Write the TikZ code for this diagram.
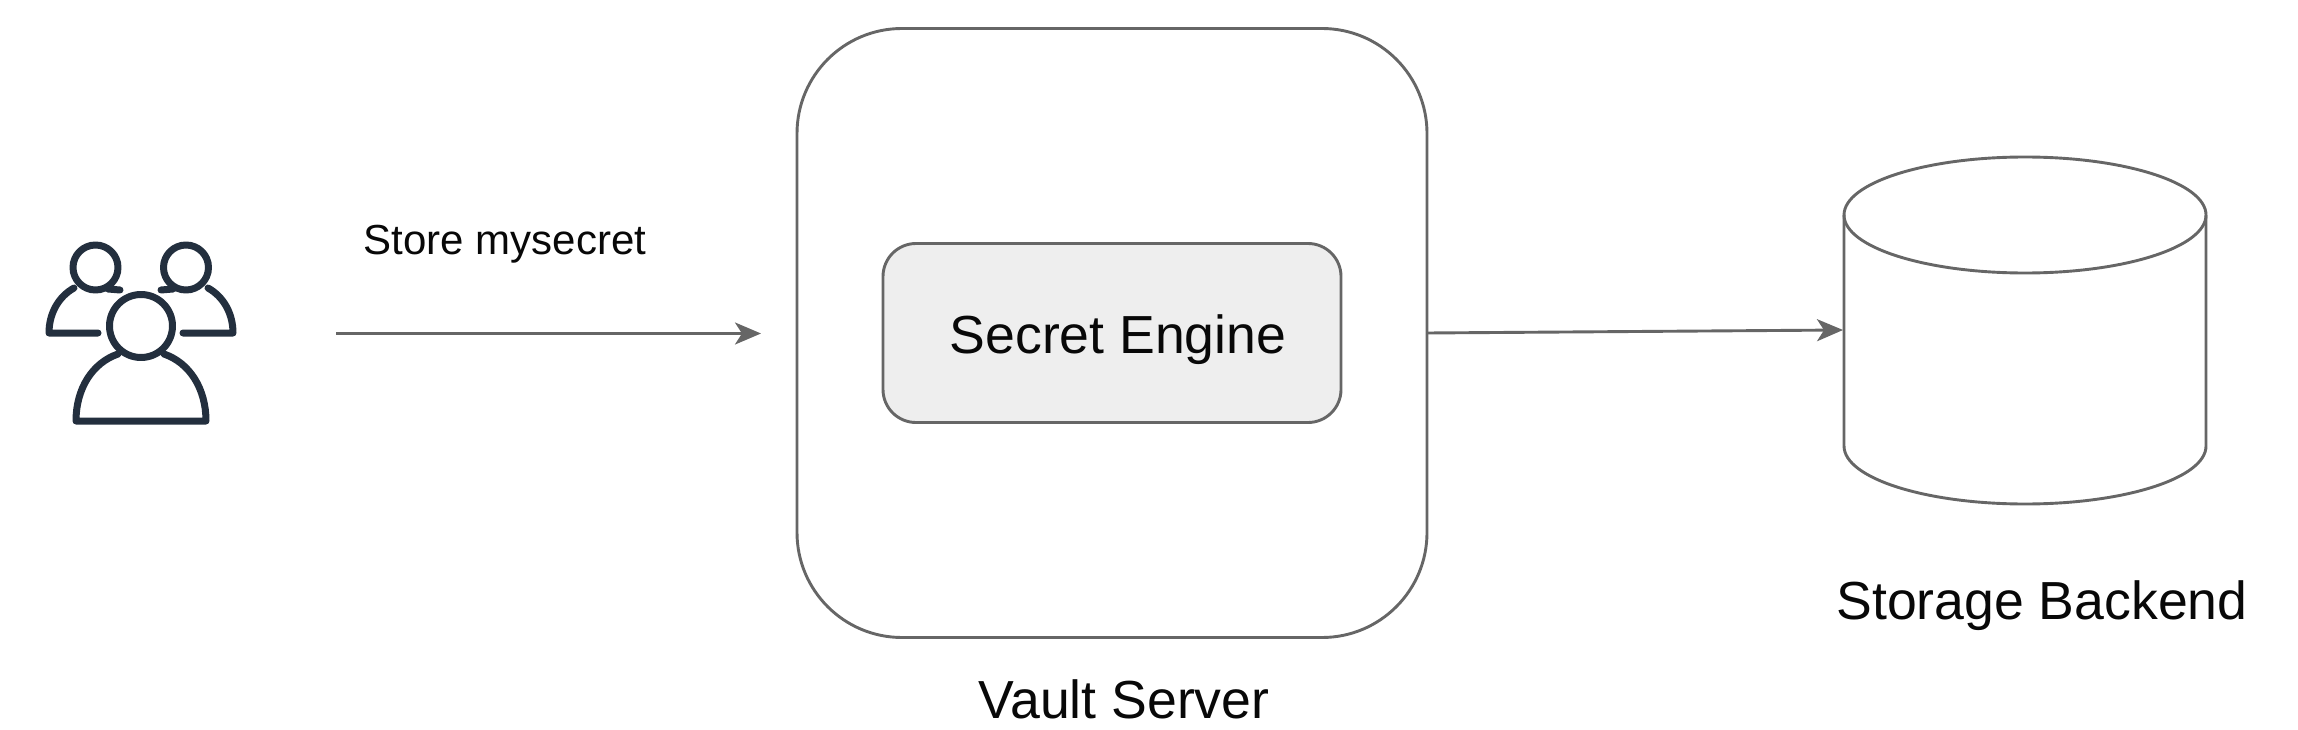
\documentclass[tikz,border=0pt]{standalone}
\usepackage{fontspec}
\setmainfont{Liberation Sans}
\usetikzlibrary{arrows.meta}
\definecolor{linegray}{HTML}{666666}
\definecolor{iconink}{HTML}{232F3E}
\definecolor{enginefill}{HTML}{EEEEEE}
\definecolor{textink}{HTML}{080808}
\tikzset{
  box/.style={draw=linegray,line width=2.9pt,inner sep=0pt,outer sep=0pt},
  conn/.style={draw=linegray,line width=2.9pt,-{Stealth[length=26pt,width=22pt,inset=7pt]}},
  biglabel/.style={text=textink,font=\fontsize{53.6}{60}\selectfont,inner sep=0pt},
  smalllabel/.style={text=textink,font=\fontsize{42}{48}\selectfont,inner sep=0pt},
  person/.style={draw=iconink,line width=7pt,line cap=round,line join=round},
  cyl/.style={draw=linegray,line width=2.9pt}
}
\begin{document}
\begin{tikzpicture}[x=1pt,y=-1pt]
\useasboundingbox[fill=white] (0,0) rectangle (2298,730);
% users icon
\draw[person] (95.5,267.5) circle (22.5);
\draw[person] (186,267.5) circle (22.5);
\draw[person] (141,326) circle (31.5);
\draw[person] (98,333) -- (49,333) .. controls (49,314) and (58,297) .. (74,288);
\draw[person] (108,289) -- (120,290);
\draw[person] (183,333) -- (233,333) .. controls (233,314) and (224,297) .. (208,288);
\draw[person] (173,289) -- (161,290);
\draw[person] (118,354) .. controls (92,363) and (76,389) .. (76,421) -- (206,421) .. controls (206,389) and (190,363) .. (164,354);
% vault server
\node[box,rounded corners=105pt,minimum width=630pt,minimum height=609pt] (vault) at (1112,333) {};
\node[box,fill=enginefill,rounded corners=33pt,minimum width=458pt,minimum height=179pt] (engine) at (1112,333) {};
\node[biglabel] (enginelabel) at (1118,340) {Secret Engine};
\node[biglabel] (vaultlabel) at (1124,699) {Vault Server};
% cylinder
\coordinate (cylw) at (1843,330);
\draw[cyl] (1844,215) -- (1844,446) arc[start angle=180,end angle=0,x radius=181,y radius=58] -- (2206,215);
\draw[cyl] (2025,215) ellipse[x radius=181,y radius=58];
\node[biglabel] (storelabel) at (2042,606) {Storage Backend};
% connectors
\coordinate (start) at (336,333.5);
\coordinate (arrowend) at (761,333.5);
\draw[conn] (start) -- (arrowend);
\draw[conn] (vault.east) -- (cylw);
\node[smalllabel] (storemy) at (505,244.5) {Store mysecret};
\end{tikzpicture}
\end{document}
